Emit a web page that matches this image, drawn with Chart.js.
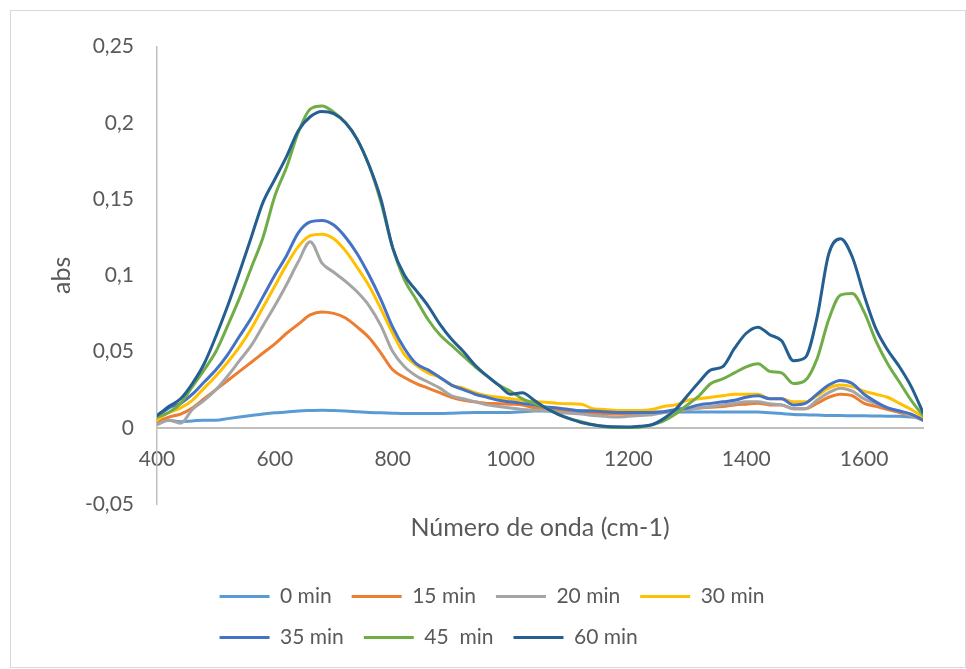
<!DOCTYPE html>
<html>
<head>
<meta charset="utf-8">
<script src="https://cdn.jsdelivr.net/npm/chart.js@4.4.1/dist/chart.umd.min.js"></script>
<style>
  body { margin: 0; background: #fff; }
  #box { position: absolute; left: 10px; top: 10px; width: 954px; height: 656px; border: 1px solid #D9D9D9; }
</style>
</head>
<body>
<div id="box"><canvas id="chart"></canvas></div>
<script>
// wavenumber (cm-1)
const waveNumbers = [
  400, 420, 440, 460, 480, 500, 520, 540, 560, 580,
  600, 620, 640, 660, 680, 700, 720, 740, 760, 780,
  800, 820, 840, 860, 880, 900, 920, 940, 960, 980,
  1000, 1020, 1040, 1060, 1080, 1100, 1120, 1140, 1160, 1180,
  1200, 1220, 1240, 1260, 1280, 1300, 1320, 1340, 1360, 1380,
  1400, 1420, 1440, 1460, 1480, 1500, 1520, 1540, 1560, 1580,
  1600, 1620, 1640, 1660, 1680, 1700
];

const seriesNames = ["0 min", "15 min", "20 min", "30 min", "35 min", "45  min", "60 min"];
const seriesColors = ["#5B9BD5", "#ED7D31", "#A5A5A5", "#FFC000", "#4472C4", "#70AD47", "#255E91"];

const abs0 = [
  0.006, 0.005, 0.004, 0.0045, 0.005, 0.005, 0.006, 0.007, 0.008, 0.009,
  0.0098, 0.0103, 0.011, 0.0113, 0.0115, 0.0113, 0.011, 0.0105, 0.010, 0.0098,
  0.0095, 0.0093, 0.0093, 0.0093, 0.0093, 0.0095, 0.0098, 0.010, 0.010, 0.010,
  0.010, 0.0105, 0.011, 0.011, 0.0112, 0.0114, 0.0112, 0.011, 0.0108, 0.0105,
  0.0103, 0.0103, 0.0103, 0.0103, 0.0103, 0.0103, 0.0103, 0.0103, 0.0103, 0.0103,
  0.0103, 0.0103, 0.0098, 0.0093, 0.0087, 0.0085, 0.0083, 0.008, 0.008, 0.0078,
  0.0078, 0.0077, 0.0076, 0.0075, 0.007, 0.0065
];
const abs15 = [
  0.004, 0.007, 0.009, 0.013, 0.019, 0.025, 0.031, 0.037, 0.043, 0.049,
  0.055, 0.062, 0.068, 0.074, 0.076, 0.075, 0.072, 0.066, 0.059, 0.049,
  0.038, 0.033, 0.029, 0.026, 0.023, 0.020, 0.018, 0.017, 0.016, 0.0158,
  0.0155, 0.015, 0.013, 0.0125, 0.012, 0.011, 0.010, 0.0095, 0.0093, 0.009,
  0.009, 0.009, 0.0095, 0.010, 0.011, 0.012, 0.013, 0.0135, 0.014, 0.015,
  0.0155, 0.016, 0.015, 0.015, 0.0125, 0.0125, 0.016, 0.020, 0.022, 0.021,
  0.016, 0.014, 0.012, 0.010, 0.008, 0.005
];
const abs20 = [
  0.002, 0.005, 0.003, 0.012, 0.018, 0.025, 0.034, 0.044, 0.054, 0.067,
  0.080, 0.094, 0.109, 0.122, 0.108, 0.102, 0.096, 0.089, 0.080, 0.067,
  0.050, 0.040, 0.034, 0.030, 0.026, 0.021, 0.019, 0.017, 0.015, 0.014,
  0.013, 0.012, 0.0115, 0.0112, 0.010, 0.0095, 0.009, 0.008, 0.0075, 0.007,
  0.0075, 0.008, 0.0085, 0.010, 0.011, 0.012, 0.013, 0.014, 0.015, 0.016,
  0.017, 0.017, 0.0157, 0.015, 0.0125, 0.0125, 0.018, 0.023, 0.026, 0.024,
  0.019, 0.016, 0.013, 0.011, 0.008, 0.005
];
const abs30 = [
  0.005, 0.010, 0.013, 0.018, 0.026, 0.034, 0.043, 0.053, 0.065, 0.079,
  0.093, 0.107, 0.119, 0.126, 0.127, 0.124, 0.116, 0.105, 0.093, 0.078,
  0.062, 0.048, 0.041, 0.036, 0.033, 0.028, 0.026, 0.023, 0.021, 0.020,
  0.019, 0.018, 0.017, 0.0168, 0.016, 0.0157, 0.0155, 0.0125, 0.012, 0.0114,
  0.0114, 0.0114, 0.012, 0.014, 0.015, 0.018, 0.019, 0.020, 0.021, 0.022,
  0.022, 0.022, 0.019, 0.019, 0.017, 0.017, 0.021, 0.026, 0.028, 0.027,
  0.024, 0.022, 0.020, 0.016, 0.012, 0.007
];
const abs35 = [
  0.007, 0.013, 0.016, 0.022, 0.030, 0.038, 0.048, 0.060, 0.072, 0.086,
  0.100, 0.113, 0.128, 0.135, 0.136, 0.133, 0.125, 0.114, 0.100, 0.084,
  0.066, 0.052, 0.042, 0.038, 0.033, 0.028, 0.025, 0.022, 0.020, 0.018,
  0.017, 0.016, 0.015, 0.0136, 0.013, 0.012, 0.011, 0.011, 0.0105, 0.010,
  0.010, 0.010, 0.010, 0.0105, 0.012, 0.013, 0.015, 0.016, 0.017, 0.018,
  0.020, 0.021, 0.019, 0.019, 0.015, 0.016, 0.022, 0.028, 0.031, 0.029,
  0.022, 0.017, 0.013, 0.011, 0.009, 0.005
];
const abs45 = [
  0.007, 0.010, 0.016, 0.027, 0.038, 0.050, 0.067, 0.085, 0.105, 0.125,
  0.152, 0.171, 0.194, 0.209, 0.211, 0.207, 0.200, 0.189, 0.172, 0.148,
  0.118, 0.097, 0.084, 0.071, 0.061, 0.054, 0.047, 0.040, 0.034, 0.028,
  0.024, 0.019, 0.016, 0.013, 0.009, 0.006, 0.004, 0.002, 0.0006, 0.0002,
  0.0002, 0.0004, 0.002, 0.0045, 0.009, 0.015, 0.021, 0.029, 0.032, 0.036,
  0.040, 0.042, 0.037, 0.036, 0.029, 0.031, 0.045, 0.071, 0.087, 0.088,
  0.076, 0.057, 0.042, 0.030, 0.018, 0.008
];
const abs60 = [
  0.008, 0.014, 0.019, 0.029, 0.042, 0.060, 0.080, 0.102, 0.125, 0.148,
  0.163, 0.178, 0.195, 0.204, 0.2075, 0.206, 0.200, 0.189, 0.172, 0.150,
  0.118, 0.100, 0.090, 0.080, 0.068, 0.058, 0.050, 0.041, 0.034, 0.028,
  0.022, 0.023, 0.018, 0.013, 0.009, 0.006, 0.0035, 0.002, 0.001, 0.0006,
  0.0005, 0.001, 0.002, 0.006, 0.012, 0.021, 0.030, 0.038, 0.040, 0.052,
  0.062, 0.066, 0.061, 0.057, 0.044, 0.046, 0.072, 0.114, 0.124, 0.112,
  0.087, 0.065, 0.051, 0.040, 0.027, 0.010
];
const seriesValues = [abs0, abs15, abs20, abs30, abs35, abs45, abs60];

const xTicks = [400, 600, 800, 1000, 1200, 1400, 1600];
const yTicks = [-0.05, 0, 0.05, 0.1, 0.15, 0.2, 0.25];

const textColor = "#595959";
const axisColor = "#BFBFBF";
Chart.defaults.font.family = "Lato";
Chart.defaults.color = textColor;

// Excel keeps the legend as a left-aligned block of 4 + 3 items
const legendBlock = {
  id: "legendBlock",
  afterInit(chart) {
    const lg = chart.legend;
    const fitRows = lg.update.bind(lg);
    lg.update = (w, h, m) => fitRows(Math.min(w, 660), h, m);
  },
  afterLayout(chart) {
    const lg = chart.legend;
    const pad = lg.options.labels.padding;
    const rowW = Math.max(...lg.lineWidths);
    lg.left = (chart.width - (rowW - pad)) / 2 - pad + 4;
    lg.right = lg.left + pad + rowW + 1;
    lg.width = lg.right - lg.left;
  }
};

const datasets = seriesNames.map((name, i) => ({
  label: name,
  data: waveNumbers.map((w, j) => ({ x: w, y: seriesValues[i][j] })),
  borderColor: seriesColors[i],
  backgroundColor: seriesColors[i],
  borderWidth: 3,
  borderCapStyle: "round",
  borderJoinStyle: "round",
  pointRadius: 0,
  cubicInterpolationMode: "monotone",
  order: seriesNames.length - i  // later series on top, like Excel
}));

const ctx = document.getElementById("chart").getContext("2d");
const chart = new Chart(ctx, {
  type: "line",
  data: { datasets: datasets },
  options: {
    responsive: true,
    maintainAspectRatio: false,
    animation: false,
    layout: { padding: { top: 29, left: 0, right: 42, bottom: 9 } },
    scales: {
      x: {
        type: "linear",
        position: { y: 0 },
        min: 400,
        max: 1700,
        afterBuildTicks: s => { s.ticks = xTicks.map(v => ({ value: v })); },
        grid: { display: false, drawTicks: false },
        border: { color: axisColor, width: 2 },
        ticks: { padding: 19, font: { size: 21 }, color: textColor, callback: v => String(v) }
      },
      y: {
        min: -0.05,
        max: 0.25,
        afterBuildTicks: s => { s.ticks = yTicks.map(v => ({ value: v })); },
        afterFit: s => { s.width = 146; },
        grid: { display: false, drawTicks: false },
        border: { color: axisColor, width: 1.5 },
        ticks: {
          padding: 23,
          font: { size: 21 },
          color: textColor,
          callback: v => String(Number(v.toFixed(2))).replace(".", ",")
        },
        title: { display: true, text: "abs", font: { size: 25 }, color: textColor, padding: { top: 36, bottom: 0 } }
      }
    },
    plugins: {
      title: {
        display: true,
        text: "Número de onda (cm-1)",
        position: "bottom",
        fullSize: false,
        weight: 500,
        color: textColor,
        font: { size: 25, weight: "normal" },
        padding: { top: 9, bottom: 23 }
      },
      legend: {
        position: "bottom",
        align: "start",
        labels: {
          usePointStyle: true,
          pointStyle: "line",
          pointStyleWidth: 50,
          padding: 20,
          color: textColor,
          font: { size: 21 },
          sort: (a, b) => a.datasetIndex - b.datasetIndex
        }
      },
      tooltip: { enabled: false }
    }
  },
  plugins: [legendBlock]
});
</script>
</body>
</html>
